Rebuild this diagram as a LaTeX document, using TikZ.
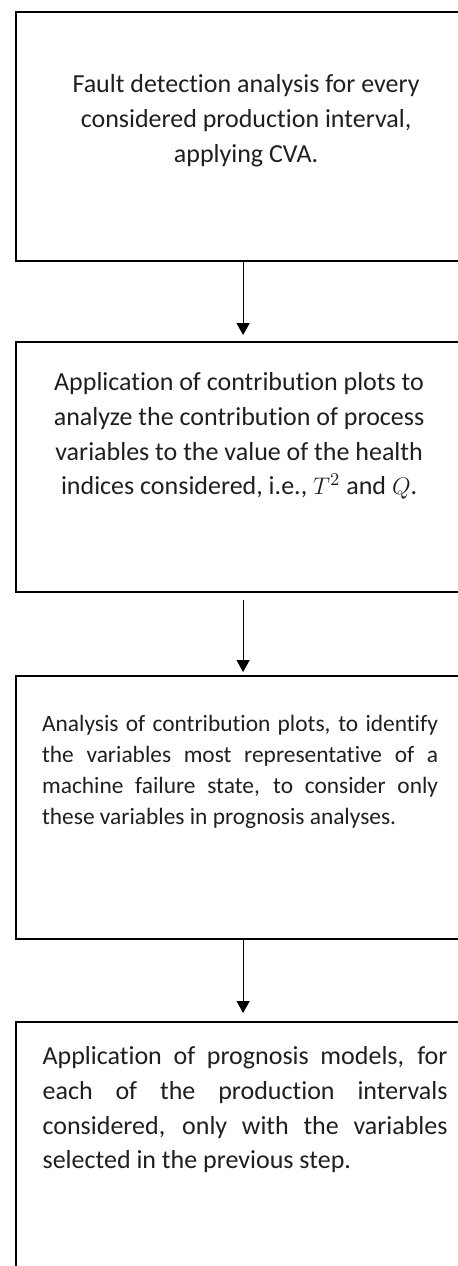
\documentclass[tikz,border=0pt]{standalone}
\usepackage{fontspec}
\setmainfont[Ligatures=NoCommon]{Carlito}
\usetikzlibrary{arrows.meta, positioning}

\tikzset{
    stepbox/.style = {draw, line width=1.1pt, minimum width=227pt, anchor=north west, inner sep=0pt},
    steptext/.style = {inner sep=0pt, text=black!88, font=\fontsize{13}{17.3}\selectfont},
    flow/.style = {-{Triangle[length=6pt, width=6.5pt]}, line width=0.6pt},
}

\begin{document}
\begin{tikzpicture}
    \useasboundingbox (0,0) rectangle (229pt,-633pt);
    % boxes
    \node [stepbox, minimum height=124.5pt] (b1) at (7.5pt,-5.5pt) {};
    \node [stepbox, minimum height=125pt] (b2) at (7.5pt,-170.5pt) {};
    \node [stepbox, minimum height=131.5pt] (b3) at (7.5pt,-337.5pt) {};
    \node [stepbox, minimum height=140pt] (b4) at (7.5pt,-510.5pt) {};
    % texts
    \node [steptext, align=center, below=31.7pt of b1.north, xshift=1.5pt] (t1)
        {Fault detection analysis for every\\ considered production interval,\\ applying CVA.};
    \node [steptext, align=center, below=15.7pt of b2.north, xshift=-2pt] (t2)
        {Application of contribution plots to\\ analyze the contribution of process\\ variables to the value of the health\\ indices considered, i.e., $T^2$ and $Q$.};
    \node [steptext, font=\fontsize{11.7}{15.5}\selectfont, text width=198pt, align=justify,
           below=20.1pt of b3.north, xshift=-1.5pt] (t3)
        {Analysis of contribution plots, to identify\linebreak the variables most representative of a\linebreak machine failure state, to consider only\linebreak these variables in prognosis analyses.};
    \node [steptext, text width=202.5pt, align=justify, below=12.7pt of b4.north, xshift=1pt] (t4)
        {Application of prognosis models, for\linebreak each of the production intervals\linebreak considered, only with the variables\linebreak selected in the previous step.};
    % arrows
    \draw [flow, shorten >=3pt] (b1.south) -- (b2.north);
    \draw [flow, shorten <=3.5pt, shorten >=1.5pt] (b2.south) -- (b3.north);
    \draw [flow, shorten >=4pt] (b3.south) -- (b4.north);
\end{tikzpicture}
\end{document}
